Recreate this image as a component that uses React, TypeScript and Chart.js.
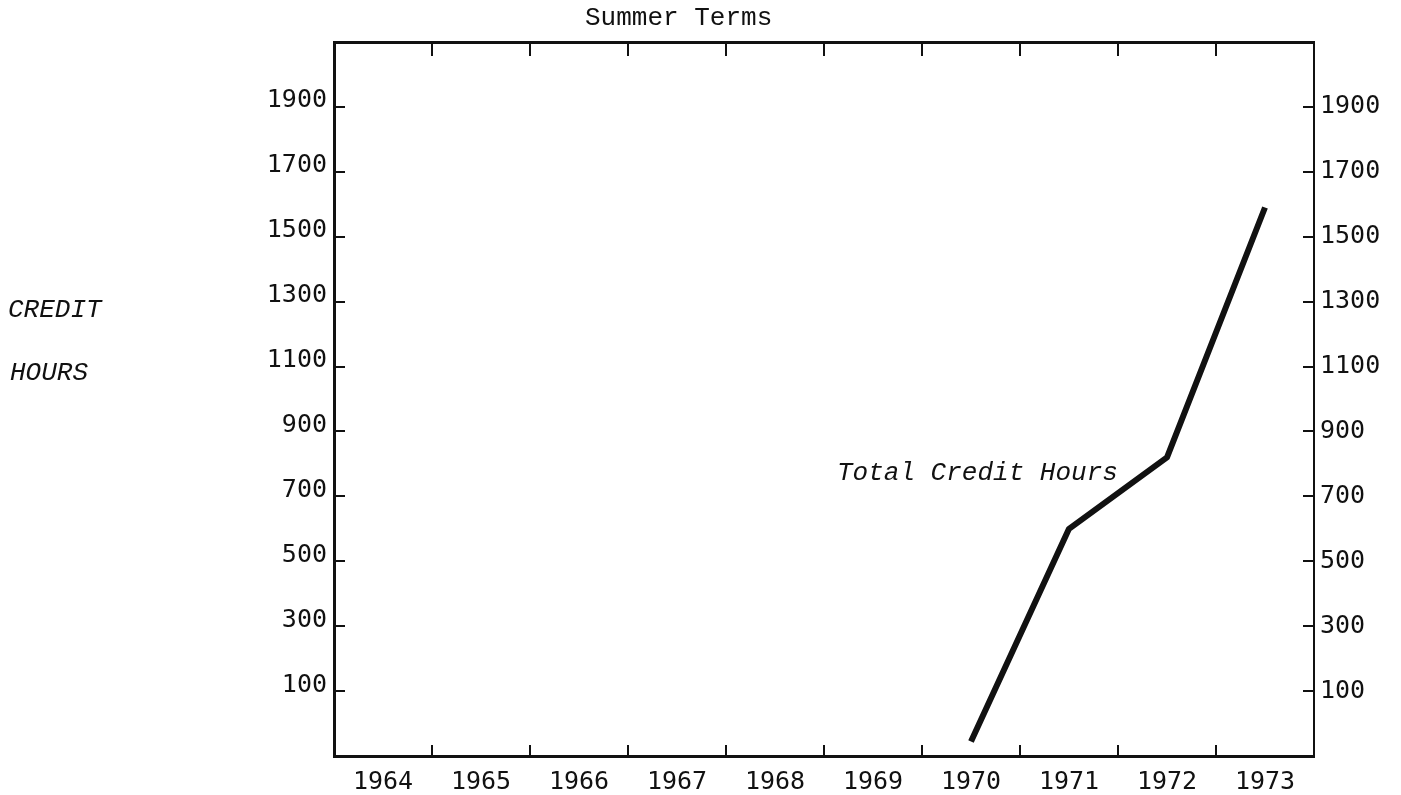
import React, { useEffect, useRef } from "react";
import { Chart, registerables } from "chart.js";

Chart.register(...registerables);

// ---- data ----
const years: string[] = ["1964", "1965", "1966", "1967", "1968", "1969", "1970", "1971", "1972", "1973"];
const totalCreditHours: (number | null)[] = [null, null, null, null, null, null, -55, 600, 820, 1590];
const yTickLabels: number[] = [100, 300, 500, 700, 900, 1100, 1300, 1500, 1700, 1900];
const yMin = -100;
const yMax = 2100;
const yStep = 200;
const chartTitle = "Summer Terms";
const yAxisTitle: string[] = ["CREDIT", "HOURS"];
const seriesLabel = "Total Credit Hours";

const INK = "#111111";
const tickFont = { family: "'DejaVu Sans Mono', monospace", size: 25 };

const textPlugin = {
  id: "typedTexts",
  afterDraw(chart: any) {
    const ctx = chart.ctx as CanvasRenderingContext2D;
    ctx.save();
    ctx.fillStyle = INK;
    ctx.textAlign = "left";
    ctx.textBaseline = "alphabetic";
    ctx.font = "26px 'Liberation Mono', monospace";
    ctx.fillText(chartTitle, 585, 25);
    ctx.font = "italic 26px 'Liberation Mono', monospace";
    ctx.fillText(yAxisTitle[0], 8, 317);
    ctx.fillText(yAxisTitle[1], 10, 380);
    ctx.fillText(seriesLabel, 837, 480);
    ctx.restore();
  },
};

const yTickCallback = (v: any) => (yTickLabels.includes(Number(v)) ? String(v) : "");

export default function App() {
  const canvasRef = useRef<HTMLCanvasElement | null>(null);

  useEffect(() => {
    if (!canvasRef.current) return;
    const chart = new Chart(canvasRef.current, {
      type: "line",
      data: {
        labels: years,
        datasets: [
          {
            label: seriesLabel,
            data: totalCreditHours,
            borderColor: INK,
            backgroundColor: INK,
            borderWidth: 6,
            pointRadius: 0,
            borderJoinStyle: "round",
            borderCapStyle: "butt",
            tension: 0,
            xAxisID: "x",
            yAxisID: "y",
          },
        ],
      },
      options: {
        animation: false,
        responsive: true,
        maintainAspectRatio: false,
        devicePixelRatio: 1,
        layout: { padding: 0 },
        plugins: {
          legend: { display: false },
          title: { display: false },
          tooltip: { enabled: false },
        },
        scales: {
          x: {
            type: "category",
            position: "bottom",
            offset: true,
            grid: { offset: true, drawOnChartArea: false, drawTicks: true, tickLength: -11, color: INK, lineWidth: 2 },
            border: { display: true, color: INK, width: 3 },
            ticks: { font: tickFont, color: INK, padding: 22, maxRotation: 0, autoSkip: false },
            afterFit: (s: any) => {
              s.height = 39;
            },
          },
          x2: {
            type: "category",
            position: "top",
            labels: years,
            offset: true,
            grid: { offset: true, drawOnChartArea: false, drawTicks: true, tickLength: -14, color: INK, lineWidth: 2 },
            border: { display: true, color: INK, width: 3 },
            ticks: { display: false, autoSkip: false },
            afterFit: (s: any) => {
              s.height = 42;
            },
          },
          y: {
            type: "linear",
            position: "left",
            min: yMin,
            max: yMax,
            grid: { drawOnChartArea: false, drawTicks: true, tickLength: -11, color: INK, lineWidth: 2 },
            border: { display: true, color: INK, width: 3 },
            ticks: { stepSize: yStep, callback: yTickCallback, font: tickFont, color: INK, padding: 18, labelOffset: -6 },
            afterFit: (s: any) => {
              s.width = 334;
            },
          },
          y2: {
            type: "linear",
            position: "right",
            min: yMin,
            max: yMax,
            grid: { drawOnChartArea: false, drawTicks: true, tickLength: -11, color: INK, lineWidth: 2 },
            border: { display: true, color: INK, width: 2 },
            ticks: { stepSize: yStep, callback: yTickCallback, font: tickFont, color: INK, padding: 17 },
            afterFit: (s: any) => {
              s.width = 87;
            },
          },
        },
      },
      plugins: [textPlugin],
    } as any);
    return () => chart.destroy();
  }, []);

  return (
    <div style={{ position: "absolute", left: 0, top: 0, width: 1401, height: 795, background: "#ffffff" }}>
      <canvas ref={canvasRef} />
    </div>
  );
}
